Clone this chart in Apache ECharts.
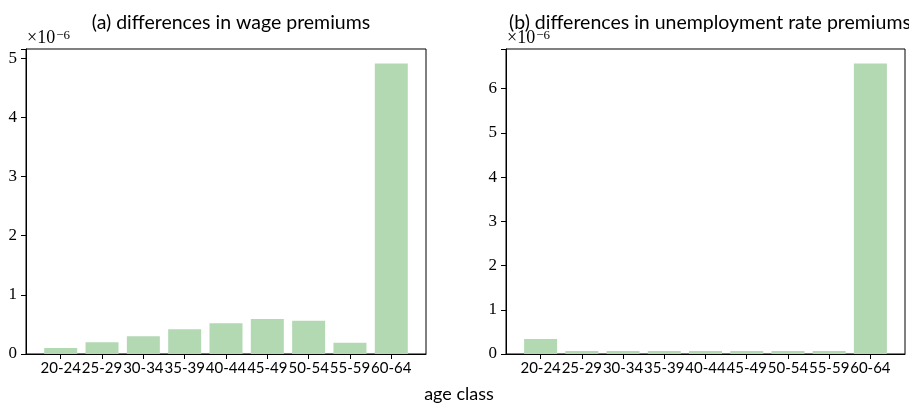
<!DOCTYPE html>
<html>
<head>
<meta charset="utf-8">
<script src="https://cdn.jsdelivr.net/npm/echarts@6/dist/echarts.min.js"></script>
<style>
  html, body { margin: 0; padding: 0; background: #fff; }
  #chart { width: 909px; height: 405px; }
</style>
</head>
<body>
<div id="chart"></div>
<script>
// Age classes shared by both panels
const ageClasses = ['20-24', '25-29', '30-34', '35-39', '40-44', '45-49', '50-54', '55-59', '60-64'];
// Values in units of 1e-6
const wageDiff = [0.10, 0.20, 0.30, 0.42, 0.52, 0.59, 0.56, 0.19, 4.91];
const unempDiff = [0.34, 0.07, 0.07, 0.07, 0.07, 0.07, 0.07, 0.07, 6.57];
const wageTicks = [0, 1, 2, 3, 4, 5];
const unempTicks = [0, 1, 2, 3, 4, 5, 6];

const barColor = '#b3d9b3';
const sansFont = 'Lato';
const serifFont = 'Liberation Serif';
const positions = ageClasses.map((_, i) => i);

function xAxisFor(gridIndex) {
  return {
    type: 'value', gridIndex,
    min: -0.84, max: 8.84,
    axisLine: { show: true, onZero: false, lineStyle: { color: '#000', width: 1 } },
    splitLine: { show: false },
    axisTick: { show: true, length: 5, customValues: positions, lineStyle: { color: '#000' } },
    axisLabel: {
      customValues: positions, margin: 7, showMinLabel: true, showMaxLabel: true, hideOverlap: false,
      fontFamily: sansFont, fontSize: 15, color: '#000',
      formatter: v => ageClasses[Math.round(v)]
    }
  };
}

function yAxisFor(gridIndex, ticks, maxVal) {
  return {
    type: 'value', gridIndex,
    min: 0, max: maxVal * 1.05, interval: 1,
    axisLine: { show: true, onZero: false, lineStyle: { color: '#000', width: 1 } },
    splitLine: { show: false },
    axisTick: { show: true, length: 5, lineStyle: { color: '#000' } },
    axisLabel: {
      margin: 9, fontFamily: serifFont, fontSize: 17, color: '#000',
      formatter: v => ticks.includes(v) ? String(v) : ''
    }
  };
}

// Scale factor text shown above each y axis
function scaleLabel(x, y) {
  return {
    type: 'text', left: x, top: y,
    style: {
      text: '{a|×10}{b|−6}',
      rich: {
        a: { fontFamily: serifFont, fontSize: 18, fill: '#000', verticalAlign: 'bottom' },
        b: { fontFamily: serifFont, fontSize: 13, fill: '#000', verticalAlign: 'top', padding: [0, 0, 0, 1] }
      }
    }
  };
}

const chart = echarts.init(document.getElementById('chart'), null, { renderer: 'canvas' });
chart.setOption({
  animation: false,
  backgroundColor: '#fff',
  title: [
    { text: '(a) differences in wage premiums', left: 226, top: 8, textAlign: 'center',
      textStyle: { fontFamily: sansFont, fontSize: 19.5, fontWeight: 'normal', color: '#000' } },
    { text: '(b) differences in unemployment rate premiums', left: 705, top: 8, textAlign: 'center',
      textStyle: { fontFamily: sansFont, fontSize: 19.5, fontWeight: 'normal', color: '#000' } },
    { text: 'age class', left: 454, top: 380, textAlign: 'center',
      textStyle: { fontFamily: sansFont, fontSize: 18, fontWeight: 'normal', color: '#000' } }
  ],
  graphic: [scaleLabel(27, 29), scaleLabel(507, 29)],
  grid: [
    { left: 26, top: 49, width: 400, height: 305, show: true, borderColor: '#000', borderWidth: 1, backgroundColor: 'transparent' },
    { left: 506, top: 49, width: 399, height: 305, show: true, borderColor: '#000', borderWidth: 1, backgroundColor: 'transparent' }
  ],
  xAxis: [xAxisFor(0), xAxisFor(1)],
  yAxis: [yAxisFor(0, wageTicks, Math.max(...wageDiff)), yAxisFor(1, unempTicks, Math.max(...unempDiff))],
  series: [
    { type: 'bar', xAxisIndex: 0, yAxisIndex: 0, barWidth: 33,
      itemStyle: { color: barColor },
      data: wageDiff.map((v, i) => [positions[i], v]) },
    { type: 'bar', xAxisIndex: 1, yAxisIndex: 1, barWidth: 33,
      itemStyle: { color: barColor },
      data: unempDiff.map((v, i) => [positions[i], v]) }
  ]
});
</script>
</body>
</html>
